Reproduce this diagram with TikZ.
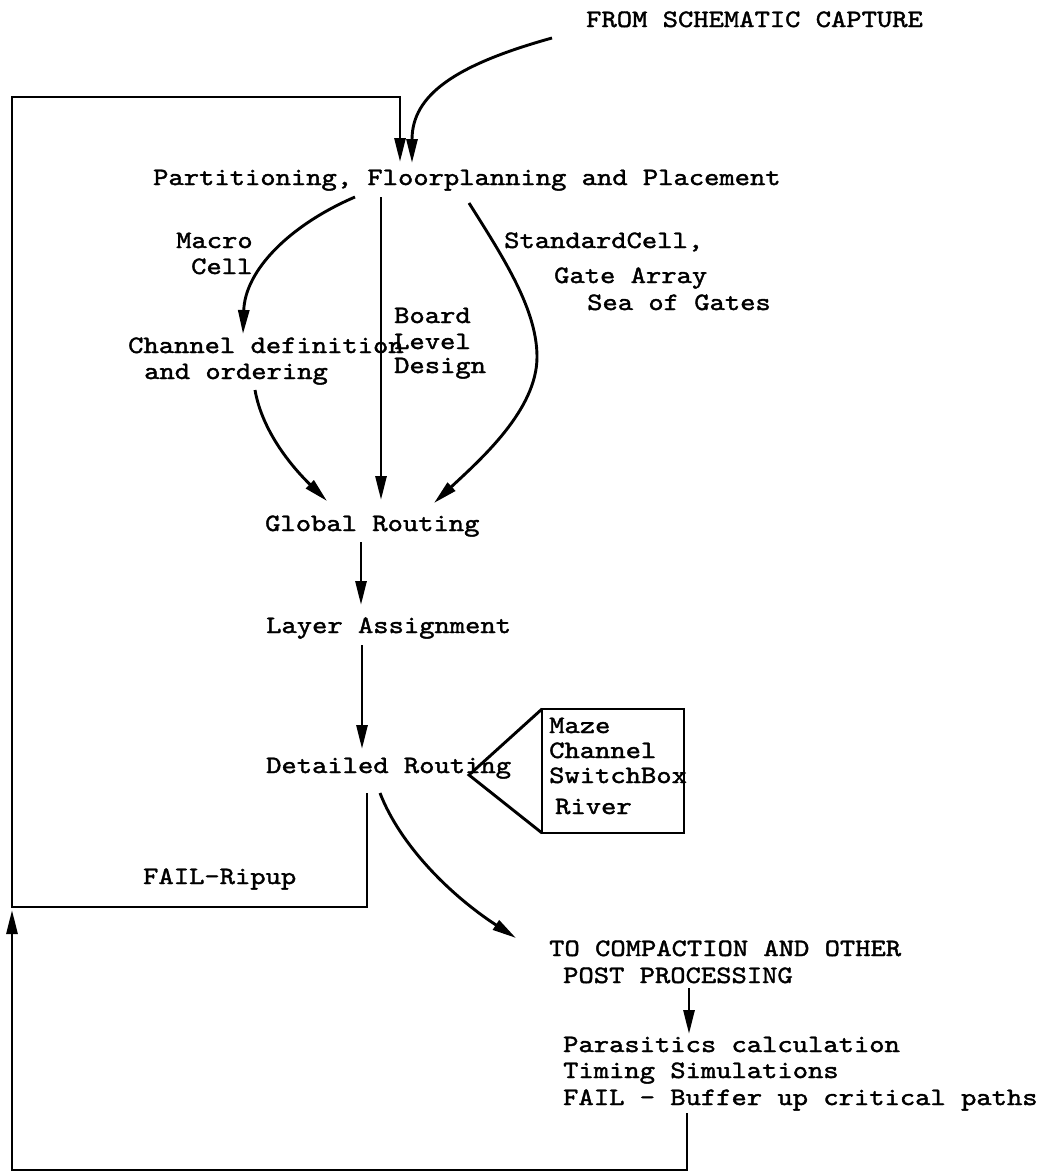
\documentclass[tikz,border=0pt]{standalone}
\usepackage{fontspec}
\usetikzlibrary{arrows.meta}
% typewriter face, widened and thickened a little
\newfontfamily\lblfam{lmmono10-regular}[Extension=.otf, FakeStretch=1.166, FakeBold=1.6]
\newcommand\lblfont{\lblfam\fontsize{25}{26}\selectfont}

\tikzset{
  lbl/.style={font=\lblfont, inner sep=0pt, anchor=base west},
  wire/.style={line width=2.9pt, line join=miter},
  flow/.style={wire, -{Triangle[length=24pt,width=11pt]}},
}

\begin{document}
\begin{tikzpicture}[x=1pt,y=-1pt]
\fill[white] (0,0) rectangle (1053,1173);
\useasboundingbox (0,0) rectangle (1053,1173);

% ---- labels ----
\node[lbl] (from)   at (586,27)   {FROM SCHEMATIC CAPTURE};
\node[lbl] (part)   at (153,185)  {Partitioning, Floorplanning and Placement};
\node[lbl] (macroA) at (176,248)  {Macro};
\node[lbl] (macroB) at (191,274)  {Cell};
\node[lbl] (stdA)   at (504,248)  {StandardCell,};
\node[lbl] (stdB)   at (554,283)  {Gate Array};
\node[lbl] (stdC)   at (587,310)  {Sea of Gates};
\node[lbl] (chanA)  at (128,353)  {Channel definition};
\node[lbl] (chanB)  at (144,379)  {and ordering};
\node[lbl] (boardA) at (394,323)  {Board};
\node[lbl] (boardB) at (394,349)  {Level};
\node[lbl] (boardC) at (394,373)  {Design};
\node[lbl] (glob)   at (265,531)  {Global Routing};
\node[lbl] (layer)  at (266,633)  {Layer Assignment};
\node[lbl] (det)    at (266,773)  {Detailed Routing};
\node[lbl] (maze)   at (549,733)  {Maze};
\node[lbl] (chnl)   at (549,758)  {Channel};
\node[lbl] (swbox)  at (549,783)  {SwitchBox};
\node[lbl] (river)  at (555,814)  {River};
\node[lbl] (ripup)  at (143,884)  {FAIL-Ripup};
\node[lbl] (compA)  at (549,956)  {TO COMPACTION AND OTHER};
\node[lbl] (compB)  at (563,983)  {POST PROCESSING};
\node[lbl] (parA)   at (563,1052) {Parasitics calculation};
\node[lbl] (parB)   at (563,1078) {Timing Simulations};
\node[lbl] (parC)   at (563,1105) {FAIL - Buffer up critical paths};

% ---- connector end points ----
\coordinate (fromOut)  at (552,38);
\coordinate (partIn)   at (412,163);
\coordinate (loopIn)   at (400,162);
\coordinate (loopTR)   at (400,97);
\coordinate (loopTL)   at (12,97);
\coordinate (loopBL)   at (12,907);
\coordinate (ripBR)    at (367,907);
\coordinate (detRip)   at (367,793);
\coordinate (macOut)   at (355,197);
\coordinate (chanIn)   at (243,334);
\coordinate (brdOut)   at (381,197);
\coordinate (brdIn)    at (381,500);
\coordinate (stdOut)   at (469,203);
\coordinate (stdMid)   at (537,357);
\coordinate (stdIn)    at (434,503);
\coordinate (chanOut)  at (255,390);
\coordinate (globInC)  at (327,501);
\coordinate (globOut)  at (361,542);
\coordinate (layerIn)  at (361,605);
\coordinate (layerOut) at (362,645);
\coordinate (detIn)    at (362,749);
\coordinate (detOut)   at (380,793);
\coordinate (compIn)   at (516,938);
\coordinate (postOut)  at (689,988);
\coordinate (parIn)    at (689,1034);
\coordinate (bufOut)   at (687,1113);
\coordinate (bufBR)    at (687,1170);
\coordinate (bufBL)    at (12,1170);
\coordinate (apex)     at (469,775);

% ---- method box ----
\draw[wire] (542,709) rectangle (684,833);
\draw[wire] (542,709) -- (apex) -- (542,833);

% ---- flow arrows ----
\draw[flow] (fromOut) .. controls (455,65) and (412,95) .. (partIn);
\draw[flow] (detRip) -- (ripBR) -- (loopBL) -- (loopTL) -- (loopTR) -- (loopIn);
\draw[flow] (macOut) .. controls (290,225) and (245,270) .. (chanIn);
\draw[flow] (brdOut) -- (brdIn);
\draw[flow] (stdOut) .. controls (505,260) and (537,310) .. (stdMid)
                     .. controls (537,410) and (480,460) .. (stdIn);
\draw[flow] (chanOut) .. controls (262,430) and (290,465) .. (globInC);
\draw[flow] (globOut) -- (layerIn);
\draw[flow] (layerOut) -- (detIn);
\draw[flow] (detOut) .. controls (400,845) and (450,895) .. (compIn);
\draw[flow] (postOut) -- (parIn);
\draw[flow] (bufOut) -- (bufBR) -- (bufBL) -- ([yshift=-3pt]loopBL);
\end{tikzpicture}
\end{document}
